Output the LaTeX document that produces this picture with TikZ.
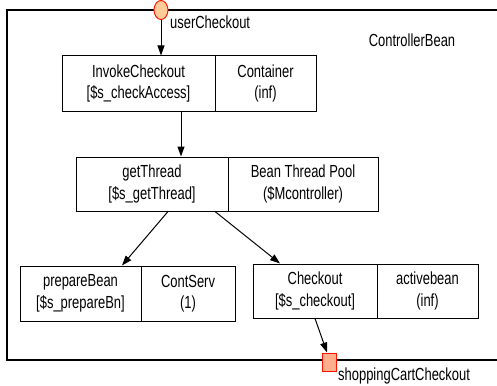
\documentclass[tikz,border=0pt]{standalone}
\usepackage{fontspec}
\setmainfont{Liberation Sans}[FakeStretch=0.74]
\usetikzlibrary{arrows.meta,shapes.geometric}
\begin{document}
\begin{tikzpicture}[x=1pt,y=-1pt,
  every node/.style={font=\fontsize{17.5}{21.5}\selectfont},
  cell/.style={draw,line width=1pt,rectangle,align=center,inner sep=0pt,minimum height=55pt},
  lbl/.style={inner sep=0pt},
  arr/.style={line width=1pt,-{Triangle[length=10pt,width=7pt]}},
  frame/.style={line width=1.1pt}]
\useasboundingbox (0,0) rectangle (497,385);
\clip (0,0) rectangle (497,385);
\draw[frame] (7,10) rectangle (520,360);
% top row
\node[cell,minimum width=153pt] (inv) at (138.5,83.5) {InvokeCheckout\\{[\$s\_checkAccess]}};
\node[cell,minimum width=101pt] (cont) at (265.5,83.5) {Container\\(inf)};
% middle row
\node[cell,minimum width=152pt,minimum height=54pt] (gt) at (152,184) {getThread\\{[\$s\_getThread]}};
\node[cell,minimum width=150pt,minimum height=54pt] (btp) at (303,184) {Bean Thread Pool\\(\$Mcontroller)};
% bottom row
\node[cell,minimum width=121pt] (pb) at (80.5,293.5) {prepareBean\\{[\$s\_prepareBn]}};
\node[cell,minimum width=94pt] (cs) at (188,293.5) {ContServ\\(1)};
\node[cell,minimum width=124pt,minimum height=54pt] (co) at (315,291) {Checkout\\{[\$s\_checkout]}};
\node[cell,minimum width=101pt,minimum height=54pt] (ab) at (427.5,291) {activebean\\(inf)};
% ports
\node[ellipse,draw=red!80!orange,fill=orange!40!white,line width=1pt,minimum width=14pt,minimum height=19pt,inner sep=0pt] (uc) at (161,10) {};
\node[rectangle,draw=red!85!orange,fill=red!40!orange!45!white,line width=1pt,minimum width=14pt,minimum height=18pt,inner sep=0pt] (sq) at (329,362) {};
% labels
\node[lbl,anchor=west] (ucl) at (170,22) {userCheckout};
\node[lbl] (cb) at (412,40) {ControllerBean};
\node[lbl,anchor=west] (scl) at (338,376) {shoppingCartCheckout};
% connectors
\draw[arr] (uc.south) -- (uc.south |- inv.north);
\draw[arr] ([xshift=42.5pt]inv.south) -- ([xshift=29pt]gt.north);
\draw[arr] ([xshift=16pt]gt.south) -- ([xshift=41.5pt]pb.north);
\draw[arr] ([xshift=63pt]gt.south) -- ([xshift=-35pt]co.north);
\draw[arr] (co.south) -- ([xshift=-2pt]sq.north);
\end{tikzpicture}
\end{document}
